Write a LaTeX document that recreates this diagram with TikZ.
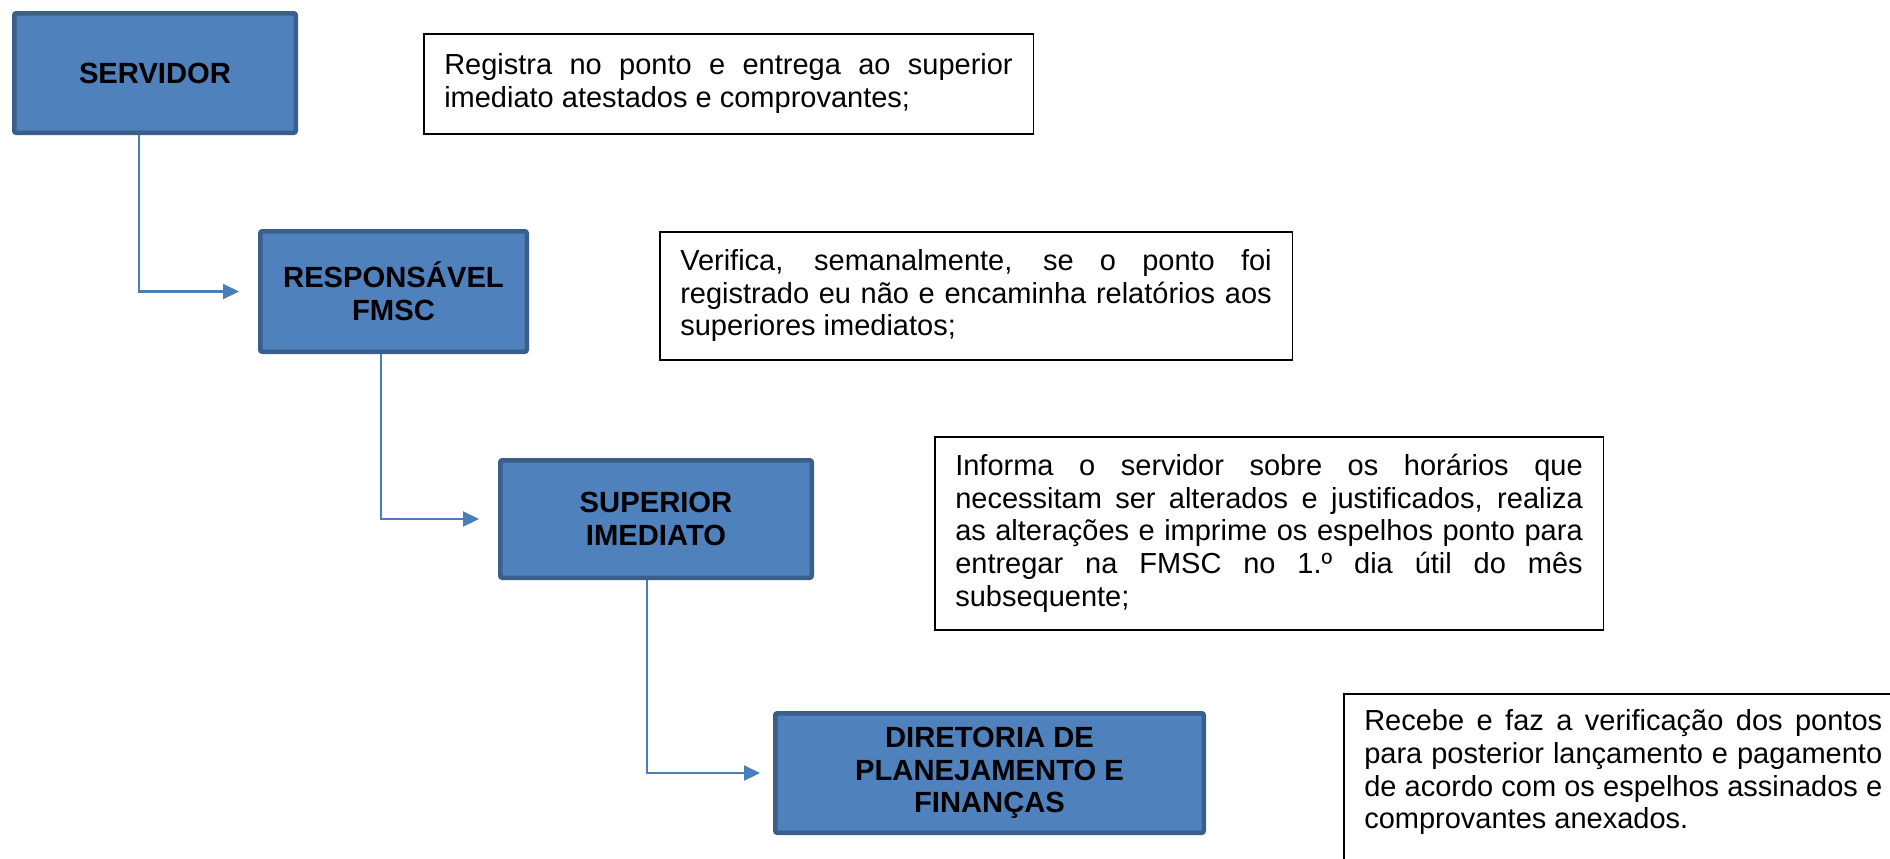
\documentclass[tikz,border=0pt]{standalone}
\usepackage{fontspec}
\setmainfont{Liberation Sans}
\usetikzlibrary{arrows.meta, positioning}
\definecolor{setorfill}{HTML}{4F81BD}
\definecolor{setordraw}{HTML}{3A5F8B}
\definecolor{linha}{HTML}{4A7EBB}
\tikzset{
    setor/.style={
        rectangle, draw=setordraw, line width=2.25pt, rounded corners=1pt,
        fill=setorfill, align=center,
        font=\fontsize{14.6}{16.35}\selectfont\bfseries
    },
    nota/.style={
        rectangle, draw=black, line width=0.75pt, fill=white,
        inner xsep=10.25pt, align=justify, anchor=north west,
        font=\fontsize{14.5}{16.35}\selectfont
    },
    fluxo/.style={draw=linha, line width=1.1pt, -{Triangle[length=8pt, width=7.5pt]}}
}

\begin{document}
\begin{tikzpicture}[x=0.5pt, y=-0.5pt]
\useasboundingbox (0,0) rectangle (1890,858);

% setores
\node[setor, minimum width=140.75pt, minimum height=59.75pt] (serv) at (155,73) {SERVIDOR};
\node[setor, minimum width=133.25pt, minimum height=60.25pt] (resp) at (393.5,291.5) {RESPONSÁVEL\\FMSC};
\node[setor, minimum width=155.75pt, minimum height=58.75pt] (sup) at (656,519) {SUPERIOR\\IMEDIATO};
\node[setor, minimum width=214.25pt, minimum height=59.75pt] (dir) at (989.5,773) {DIRETORIA DE\\PLANEJAMENTO E\\FINANÇAS};

% atribuicoes
\node[nota, text width=284.25pt, minimum height=50pt] (t1) at (423,33)
    {Registra no ponto e entrega ao superior\linebreak imediato atestados e comprovantes;};
\node[nota, text width=295.75pt, minimum height=64pt] (t2) at (659,231)
    {Verifica, semanalmente, se o ponto foi\linebreak registrado eu não e encaminha relatórios aos\linebreak superiores imediatos;};
\node[nota, text width=313.75pt, minimum height=96.5pt] (t3) at (934,436)
    {Informa o servidor sobre os horários que\linebreak necessitam ser alterados e justificados, realiza\linebreak as alterações e imprime os espelhos ponto para\linebreak entregar na FMSC no 1.º dia útil do mês\linebreak subsequente;};
\node[nota, text width=259pt, inner ysep=8pt, text depth=80pt] (t4) at (1343,693)
    {Recebe e faz a verificação dos pontos\linebreak para posterior lançamento e pagamento\linebreak de acordo com os espelhos assinados e\linebreak comprovantes anexados.};

% fluxo
\draw[fluxo, shorten >=9.5pt] ([xshift=-8pt]serv.south) |- (resp.west);
\draw[fluxo, shorten >=9.5pt] ([xshift=-6.25pt]resp.south) |- (sup.west);
\draw[fluxo, shorten >=6.5pt] ([xshift=-4.5pt]sup.south) |- (dir.west);

\end{tikzpicture}
\end{document}
